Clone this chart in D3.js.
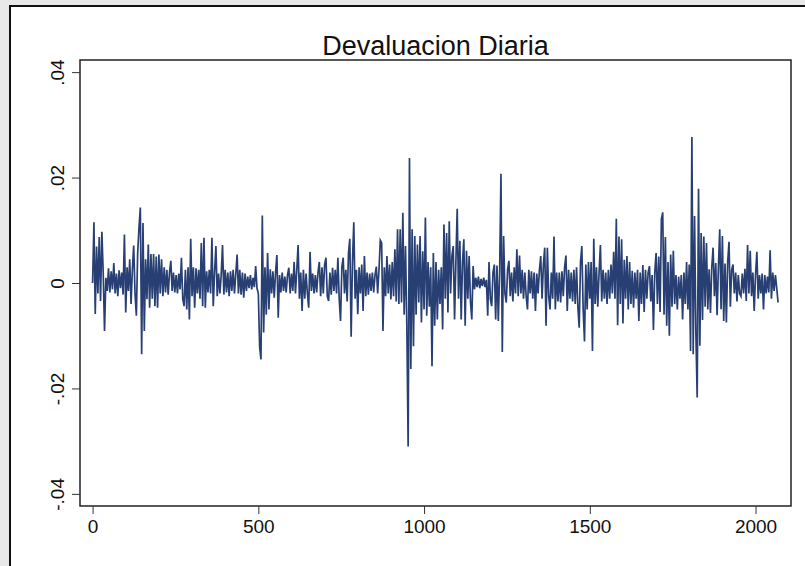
<!DOCTYPE html>
<html>
<head>
<meta charset="utf-8">
<script src="https://cdn.jsdelivr.net/npm/d3@7"></script>
<style>
  body { margin: 0; background: #ffffff; }
  text { font-family: "Liberation Sans", Arial, sans-serif; fill: #111; }
</style>
</head>
<body>
<svg id="chart" width="805" height="566"></svg>
<script>
    // devaluacion diaria, en unidades de 0.0001, una observacion cada 4 dias
    var dayStep = 4;

    var dias0 = [0, 115, -59, 69, -20, 87, -34, 97, 20, -91, 10, -15, 28, -18, 22, -12, 38, -20, 18, -25, 24, -10, 20, -22,
        92, -56, 30, -15, 45, -40, 25, 71, -20, -62, 57, 105, 143, -135, 114, -91, 45, -31, 73, -47, 55, -30, 55, -44, 50, -47,
        54, -20, 45, -25, 30, -18, 25, -22, 20, 42, -15, 20, -18, 15, -20, 18, -12, 48, -30, -44, 25, -50, 30, -69, 84, -25,
        30, -47, 28, -20, 25, -30, 76, -44, 86, -47, 22, -18, 25, -20, 86, -44, 20, 70, -25, 18, -20, 15, 72, -22, 25, -18,
        20, -25, 22, -15, 25, -20, 18, 54, -20, 25, -22, 20, -28, 18, -15, 12, -10, 15, -12, 10, -8, 32, -10];

    var dias500 = [-20, -122, -145, 128, -94, 30, -60, 57, -50, 26, -20, 22, -28, 20, 53, -66, 15, -18, 20, -15, 12, -18, 15, 29,
        -20, 18, -15, 40, -20, 25, 72, -30, 20, -53, 25, -30, 18, -20, -47, 59, -15, 18, -20, 15, -18, 20, 40, -25, 30, -20,
        35, 48, -25, -34, 20, -22, 29, -15, 25, -20, 48, -30, -72, 30, 48, -20, 25, -35, 57, 84, -102, 40, 115, -30, 25, -59,
        30, -20, 35, -53, 51, -25, 20, -22, 18, -15, 20, -18, 15, 31, -20, 25, 81, 76, -91, 30, -25, 51, -20, 35, -31, 40,
        -25, 64, -35, 102, -40, 102, -37, 133, -60, 70, -80, -310, 237, -163, 102, -120, 89, -60, 73, -37, 89, -75, 60];

    var dias1000 = [-50, 124, -62, 40, -45, 30, -158, 57, -81, 40, -69, 25, -40, 30, -88, 111, -30, 95, -56, 117, -20, 51, 70,
        -69, 40, 141, -30, 80, -69, 40, 83, -81, 61, -30, 51, -35, -69, 32, -12, 10, -8, 12, -10, 8, -6, 10, -8, 6, -62, 40,
        -30, -44, 20, 35, -69, 33, -72, 20, 207, -131, 89, -20, -37, 25, 42, -25, 20, -35, 30, -20, 64, -25, 52, -20, 25, -30,
        20, -25, -50, 25, -20, 22, -30, 20, -53, 18, -20, 25, 51, -30, 35, 67, -81, 67, -25, -50, 20, -30, 88, -50, 20, -35,
        20, -37, 22, -25, 30, 52, -53, 25, -30, 20, -35, 25, -40, 30, -45, -85, 40, 70, -50, -111, 35, -50, 40];

    var dias1500 = [-30, 40, -129, 84, -40, 30, -45, 20, 72, -35, 25, -30, 20, -40, 25, -30, 35, -20, 59, -30, 122, -80, 88,
        -40, 83, -77, 44, -30, 51, -50, 40, -40, 23, -47, 20, -30, 25, -72, 20, -40, 34, -55, 25, -30, 20, 32, -35, 15, -89,
        20, 57, -40, 50, -55, 121, 134, -60, 87, -81, 40, -100, 54, -45, 61, -40, 15, -50, 12, -30, 15, -69, 20, -40, 40, -50,
        35, -129, 277, -135, 127, -94, -217, 179, -119, 95, -70, 88, -45, 76, -50, 26, -57, 30, 67, -25, 38, -61, 30, 102,
        -50, 89, -72, 37, -75, 40, 78, -45, 25, 35, -20, 20, -35, 15, -20, -25, 18, -20, 27, -34, 72, -20, 61, -25, 20, -53,
        15, 59, -30, 15, -20, 18, -50, 15, -20, 12, -18, 62, -30, 20, -15, 15, -10, -37];

    var xTicks = [0, 500, 1000, 1500, 2000];
    var yTicks = [-0.04, -0.02, 0, 0.02, 0.04];
    var yTickLabels = ["-.04", "-.02", "0", ".02", ".04"];

    var serie = dias0.concat(dias500, dias1000, dias1500).map(function (v, i) {
        return {dia: i * dayStep, valor: v / 10000};
    });

    var svg = d3.select("#chart"),
        width = +svg.attr("width"),
        height = +svg.attr("height");

    var plot = {left: 80, right: 791, top: 60, bottom: 506};

    // marco gris de la ventana
    svg.append("rect").attr("width", width).attr("height", height).style("fill", "#e8e8e8");
    svg.append("rect")
        .attr("x", 10).attr("y", 6)
        .attr("width", width).attr("height", height)
        .style("fill", "#ffffff")
        .style("stroke", "#111")
        .style("stroke-width", 2);

    var x = d3.scaleLinear().domain([-38, 2107]).range([plot.left, plot.right]);
    var y = d3.scaleLinear().domain([-0.0423, 0.0423]).range([plot.bottom, plot.top]);

    svg.append("text")
        .attr("x", (plot.left + plot.right) / 2)
        .attr("y", 55)
        .attr("text-anchor", "middle")
        .style("font-size", "27px")
        .text("Devaluacion Diaria");

    var line = d3.line()
        .x(function (d) {return x(d.dia);})
        .y(function (d) {return y(d.valor);});

    svg.append("path")
        .datum(serie)
        .attr("d", line)
        .style("fill", "none")
        .style("stroke", "#283f73")
        .style("stroke-width", 1.7)
        .style("stroke-linejoin", "miter");

    svg.append("rect")
        .attr("x", plot.left).attr("y", plot.top)
        .attr("width", plot.right - plot.left).attr("height", plot.bottom - plot.top)
        .style("fill", "none")
        .style("stroke", "#222")
        .style("stroke-width", 1.5);

    var xAxis = svg.append("g")
        .attr("transform", "translate(0," + plot.bottom + ")")
        .call(d3.axisBottom(x).tickValues(xTicks).tickSize(8).tickPadding(6).tickFormat(d3.format("d")));

    var yAxis = svg.append("g")
        .attr("transform", "translate(" + plot.left + ",0)")
        .call(d3.axisLeft(y).tickValues(yTicks).tickSize(8).tickFormat(function (d, i) {return yTickLabels[i];}));

    [xAxis, yAxis].forEach(function (g) {
        g.select(".domain").remove();
        g.selectAll(".tick line").style("stroke", "#333").style("stroke-width", 1);
        g.selectAll(".tick text").style("font-size", "19px").style("font-family", "Liberation Sans, Arial, sans-serif").style("fill", "#111");
    });

    yAxis.selectAll(".tick text")
        .attr("x", 0).attr("dy", 0)
        .attr("text-anchor", "middle")
        .attr("transform", "translate(-16.5,0) rotate(-90)");
</script>
</body>
</html>
